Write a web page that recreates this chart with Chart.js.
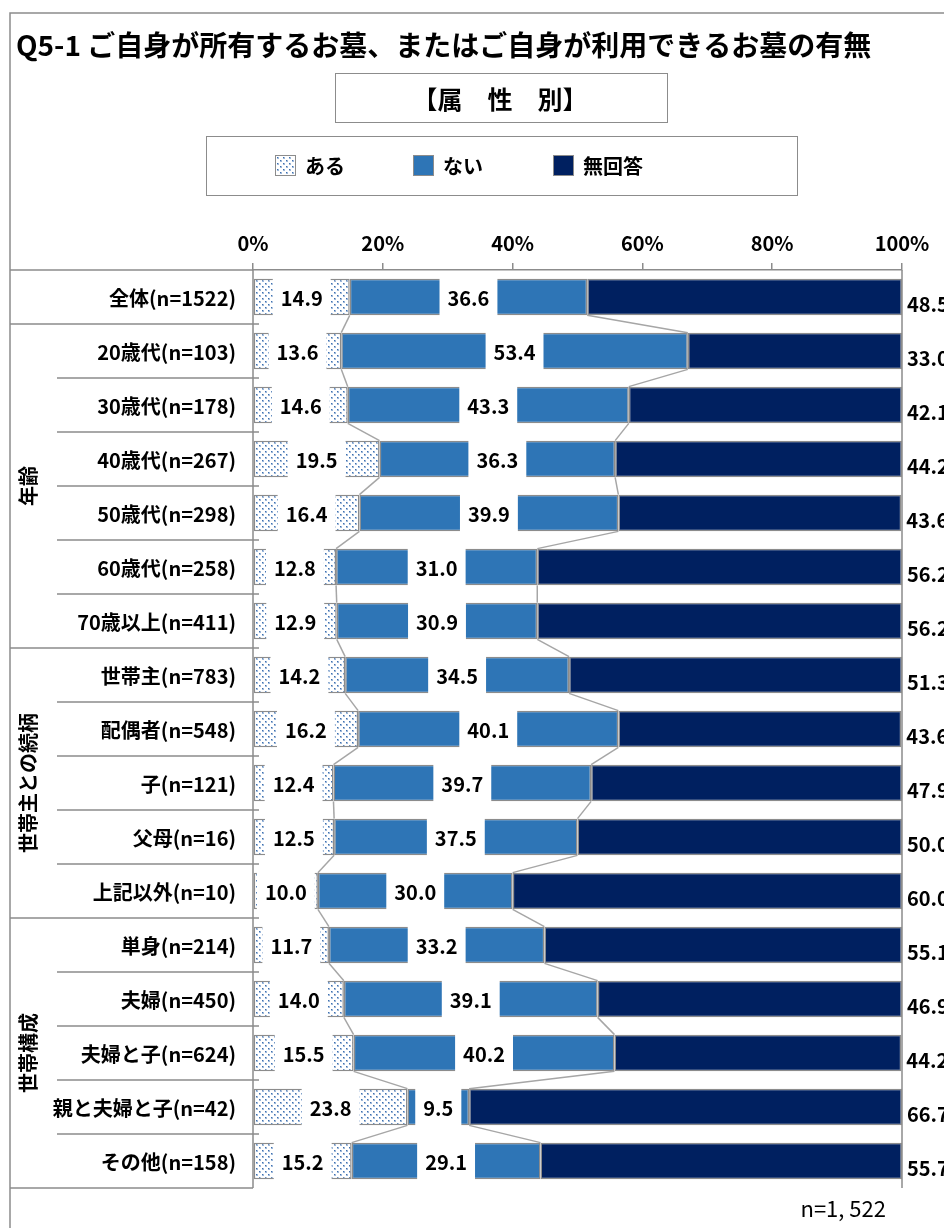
<!DOCTYPE html>
<html>
<head>
<meta charset="utf-8">
<script src="https://cdn.jsdelivr.net/npm/chart.js@4"></script>
<style>
  html, body { margin: 0; padding: 0; background: #fff; }
</style>
</head>
<body>
<canvas id="chart" width="944" height="1228"></canvas>
<script>
// categories and values
const categories = [
  '全体(n=1522)',
  '20歳代(n=103)', '30歳代(n=178)', '40歳代(n=267)', '50歳代(n=298)', '60歳代(n=258)', '70歳以上(n=411)',
  '世帯主(n=783)', '配偶者(n=548)', '子(n=121)', '父母(n=16)', '上記以外(n=10)',
  '単身(n=214)', '夫婦(n=450)', '夫婦と子(n=624)', '親と夫婦と子(n=42)', 'その他(n=158)'
];
const aru      = [14.9, 13.6, 14.6, 19.5, 16.4, 12.8, 12.9, 14.2, 16.2, 12.4, 12.5, 10.0, 11.7, 14.0, 15.5, 23.8, 15.2];
const nai      = [36.6, 53.4, 43.3, 36.3, 39.9, 31.0, 30.9, 34.5, 40.1, 39.7, 37.5, 30.0, 33.2, 39.1, 40.2,  9.5, 29.1];
const mukaitou = [48.5, 33.0, 42.1, 44.2, 43.6, 56.2, 56.2, 51.3, 43.6, 47.9, 50.0, 60.0, 55.1, 46.9, 44.2, 66.7, 55.7];
const seriesNames = ['ある', 'ない', '無回答'];

const groupNames = ['年齢', '世帯主との続柄', '世帯構成'];
const groupStart = [1, 7, 12];
const groupEnd   = [6, 11, 16];

const titleText = 'Q5-1 ご自身が所有するお墓、またはご自身が利用できるお墓の有無';
const subTitle = '【属　性　別】';
const footText = 'n=1, 522';

const FONT = '"Noto Sans CJK JP", "Noto Sans", sans-serif';
const LINE = '#8c8c8c';

// dotted fill for "ある"
function dotPattern() {
  const c = document.createElement('canvas');
  c.width = 6; c.height = 6;
  const g = c.getContext('2d');
  g.fillStyle = '#ffffff';
  g.fillRect(0, 0, 6, 6);
  g.fillStyle = '#9db8da';
  g.fillRect(1, 1, 2, 2);
  g.fillRect(4, 4, 2, 2);
  g.fillStyle = '#3e6fae';
  g.fillRect(1, 1, 1, 1);
  g.fillRect(4, 4, 1, 1);
  return g.createPattern(c, 'repeat');
}
const dots = dotPattern();
const fills = [dots, '#2e75b6', '#002060'];

const decorPlugin = {
  id: 'decor',
  afterDatasetsDraw(chart) {
    const ctx = chart.ctx;
    const metas = [0, 1, 2].map(i => chart.getDatasetMeta(i));
    const n = categories.length;

    // series lines between neighbouring bars
    ctx.save();
    ctx.strokeStyle = '#a6a6a6';
    ctx.lineWidth = 1.5;
    for (let k = 0; k < 2; k++) {
      for (let i = 0; i < n - 1; i++) {
        const a = metas[k].data[i], b = metas[k].data[i + 1];
        ctx.beginPath();
        ctx.moveTo(a.x, a.y + a.height / 2);
        ctx.lineTo(b.x, b.y - b.height / 2);
        ctx.stroke();
      }
    }

    // value labels
    ctx.font = 'bold 20px ' + FONT;
    ctx.textBaseline = 'middle';
    const vals = [aru, nai, mukaitou];
    for (let k = 0; k < 2; k++) {
      metas[k].data.forEach((bar, i) => {
        const txt = vals[k][i].toFixed(1);
        const cx = (bar.x + bar.base) / 2;
        const w = ctx.measureText(txt).width + 16;
        ctx.fillStyle = '#fff';
        ctx.fillRect(cx - w / 2, bar.y - bar.height / 2 - 1.5, w, bar.height + 3);
        ctx.fillStyle = '#000';
        ctx.textAlign = 'center';
        ctx.fillText(txt, cx, bar.y + 1);
      });
    }
    metas[2].data.forEach((bar, i) => {
      ctx.fillStyle = '#000';
      ctx.textAlign = 'left';
      ctx.fillText(mukaitou[i].toFixed(1), bar.x + 5, bar.y + 7);
    });
    ctx.restore();
  },
  afterDraw(chart) {
    const ctx = chart.ctx;
    const area = chart.chartArea;
    const ys = chart.scales.y;
    ctx.save();

    // outer frame
    ctx.strokeStyle = LINE;
    ctx.lineWidth = 1.5;
    ctx.beginPath();
    ctx.moveTo(944, 13); ctx.lineTo(10, 13); ctx.lineTo(10, 1228);
    ctx.stroke();

    // title
    ctx.fillStyle = '#000';
    ctx.textBaseline = 'middle';
    ctx.textAlign = 'left';
    ctx.font = 'bold 28px ' + FONT;
    ctx.fillText(titleText, 16, 45, 866);

    // sub title box
    ctx.lineWidth = 1;
    ctx.strokeRect(335.5, 73.5, 332, 49);
    ctx.font = 'bold 25px ' + FONT;
    ctx.textAlign = 'center';
    ctx.fillText(subTitle, 500, 99);

    // legend box
    ctx.strokeRect(206.5, 136.5, 591, 59);
    const legX = [275, 413, 553];
    ctx.font = 'bold 20px ' + FONT;
    ctx.textAlign = 'left';
    seriesNames.forEach((name, k) => {
      ctx.fillStyle = fills[k];
      ctx.fillRect(legX[k], 155, 20, 20);
      ctx.strokeStyle = LINE;
      ctx.lineWidth = 1;
      ctx.strokeRect(legX[k] + 0.5, 155.5, 20, 20);
      ctx.fillStyle = '#000';
      ctx.fillText(name, legX[k] + 30, 166);
    });

    // label table
    ctx.strokeStyle = LINE;
    ctx.lineWidth = 1.5;
    ctx.beginPath();
    ctx.moveTo(10, area.top); ctx.lineTo(area.left, area.top);
    ctx.moveTo(10, area.bottom); ctx.lineTo(area.left, area.bottom);
    ctx.moveTo(area.left, area.top); ctx.lineTo(area.left, area.bottom);
    ctx.moveTo(area.right, area.top); ctx.lineTo(area.right, area.bottom);
    for (let j = 1; j < categories.length; j++) {
      const y = ys.getPixelForValue(j - 0.5);
      const x0 = groupStart.includes(j) ? 10 : 57;
      ctx.moveTo(x0, y); ctx.lineTo(area.left + 6, y);
    }
    ctx.stroke();

    ctx.fillStyle = '#000';
    ctx.font = 'bold 20px ' + FONT;
    ctx.textAlign = 'right';
    categories.forEach((c, i) => {
      ctx.fillText(c, 236, ys.getPixelForValue(i) + 1);
    });

    // group captions, vertical
    ctx.textAlign = 'center';
    groupNames.forEach((g, k) => {
      const yc = (ys.getPixelForValue(groupStart[k] - 0.5) + ys.getPixelForValue(groupEnd[k] + 0.5)) / 2;
      ctx.save();
      ctx.translate(28, yc);
      ctx.rotate(-Math.PI / 2);
      ctx.fillText(g, 0, 0);
      ctx.restore();
    });

    // footnote
    ctx.font = '22px ' + FONT;
    ctx.textAlign = 'right';
    ctx.fillText(footText, 886, 1209);
    ctx.restore();
  }
};

new Chart(document.getElementById('chart'), {
  type: 'bar',
  data: {
    labels: categories,
    datasets: [aru, nai, mukaitou].map((d, k) => ({
      label: seriesNames[k],
      data: d,
      backgroundColor: fills[k],
      borderColor: LINE,
      borderWidth: 1.5,
      borderSkipped: false,
      categoryPercentage: 1,
      barPercentage: 0.68
    }))
  },
  options: {
    indexAxis: 'y',
    responsive: false,
    devicePixelRatio: 1,
    animation: false,
    layout: { padding: { left: 253, right: 42, top: 0, bottom: 40 } },
    plugins: { legend: { display: false }, tooltip: { enabled: false } },
    scales: {
      x: {
        position: 'top',
        stacked: true,
        min: 0,
        max: 100,
        afterFit: s => { s.height = 270; },
        ticks: {
          stepSize: 20,
          callback: v => v + '%',
          color: '#000',
          padding: 8,
          font: { family: FONT, size: 20, weight: 'bold' }
        },
        grid: { drawOnChartArea: false, tickLength: 7, color: LINE, lineWidth: 1.5 },
        border: { color: LINE, width: 1.5 }
      },
      y: { stacked: true, display: false }
    }
  },
  plugins: [decorPlugin]
});
</script>
</body>
</html>
